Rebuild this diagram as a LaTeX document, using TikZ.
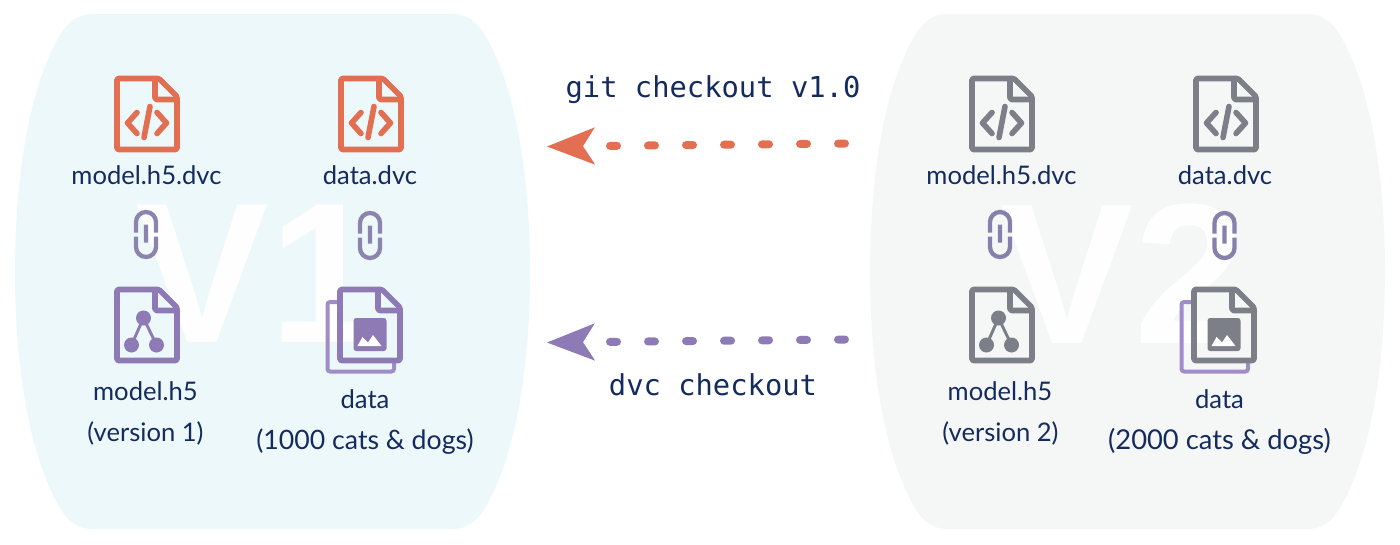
\documentclass[tikz,border=0pt]{standalone}
\usepackage{fontspec}
\setmainfont{Lato}
\setmonofont{DejaVu Sans Mono}
\newfontfamily\bigfont{Liberation Sans}
\usetikzlibrary{arrows.meta}
\definecolor{orangeC}{HTML}{E36F52}
\definecolor{purpleC}{HTML}{8E7BB5}
\definecolor{backC}{HTML}{A08DC8}
\definecolor{grayC}{HTML}{7C7F87}
\definecolor{navyC}{HTML}{142B5F}
\definecolor{blobL}{HTML}{EDF8FA}
\definecolor{blobR}{HTML}{F5F6F6}
\definecolor{linkL}{HTML}{8C84AE}
\definecolor{linkR}{HTML}{8880AC}
\tikzset{
  x=0.75pt,y=-0.75pt,
  lbl/.style={text=navyC,font=\fontsize{19.2pt}{20pt}\selectfont,inner sep=0pt,anchor=base},
  lblw/.style={text=navyC,font=\fontsize{#1}{22pt}\selectfont,inner sep=0pt,anchor=base},
  cmd/.style={text=navyC,font=\ttfamily\fontsize{21.6pt}{24pt}\selectfont,inner sep=0pt,anchor=base},
  bigv/.style={text=white,font=\bigfont\bfseries\fontsize{150pt}{150pt}\selectfont,inner sep=0pt,anchor=center,opacity=.95},
  flow/.style={line width=6pt,line cap=round,dash pattern=on 5.25pt off 23.25pt,
    -{Stealth[length=36pt,width=28pt,inset=9pt,line width=0pt,sep=0pt]}},
  pics/container/.style={code={
    \fill[#1] (15,272) .. controls (15,180) and (28,90) .. (60,35)
      .. controls (68,22) and (78,14) .. (92,14) -- (453,14)
      .. controls (467,14) and (477,22) .. (485,35)
      .. controls (517,90) and (530,180) .. (530,272)
      .. controls (530,363) and (517,453) .. (485,508)
      .. controls (477,521) and (467,529) .. (453,529) -- (92,529)
      .. controls (78,529) and (68,521) .. (60,508)
      .. controls (28,453) and (15,363) .. (15,272) -- cycle;
  }},
  pics/sheet/.style={code={
    \draw[#1,line width=4.2pt,line join=round,rounded corners=1pt]
      (0,0) -- (42,0) -- (60,18) -- (60,71) -- (0,71) -- cycle;
    \draw[#1,line width=4.2pt,line join=round,rounded corners=1.5pt] (38,0) -- (38,21) -- (60,21);
  }},
  pics/codeglyph/.style={code={
    \draw[#1,line width=4.2pt,line cap=round,line join=round]
      (20,34) -- (10.5,44.5) -- (20,55) (40,34) -- (49.5,44.5) -- (40,55) (33,28) -- (27,59);
  }},
  pics/treeglyph/.style={code={
    \draw[#1,line width=2.2pt] (14.5,55.5) -- (26.5,28.5) -- (39.5,55.5);
    \fill[#1] (26.5,28.5) circle (7.5) (14.5,55.5) circle (7.5) (39.5,55.5) circle (7.5);
  }},
  pics/imageglyph/.style={code={
    \fill[#1,rounded corners=2pt] (13.5,28.5) rectangle (46.5,61.5);
    \fill[white] (17.5,56.5) -- (22.5,47.5) -- (28,53) -- (33,45.5) -- (41.5,56.5) -- cycle;
  }},
  pics/backsheet/.style={code={
    \draw[backC,line width=3pt,rounded corners=2pt] (-1,12.5) -- (-12.5,12.5) -- (-12.5,82) -- (54,82) -- (54,72.5);
  }},
  pics/linkglyph/.style={code={
    \draw[#1,line width=3.2pt]
      (-10,-2) -- (-10,-12.5) arc (180:360:10) -- (10,-2)
      (-10,2) -- (-10,12.5) arc (180:0:10) -- (10,2)
      (0,-10) -- (0,8);
  }},
}
\begin{document}
\begin{tikzpicture}
\useasboundingbox (0,0) rectangle (1400,544);
\fill[white] (0,0) rectangle (1400,544);
% containers
\pic at (0,0) {container=blobL};
\pic at (855,0) {container=blobR};
\node[bigv] (vone) at (258,274) {V1};
\node[bigv] (vtwo) at (1123,274) {V2};
% left icons
\pic at (117,78.5) {sheet=orangeC};
\pic at (117,78.5) {codeglyph=orangeC};
\pic at (341,78.5) {sheet=orangeC};
\pic at (341,78.5) {codeglyph=orangeC};
\pic at (146,234.5) {linkglyph=linkL};
\pic at (370,235.5) {linkglyph=linkL};
\pic at (117,289.5) {sheet=purpleC};
\pic at (117,289.5) {treeglyph=purpleC};
\pic at (340,289.5) {backsheet};
\pic at (340,289.5) {sheet=purpleC};
\pic at (340,289.5) {imageglyph=purpleC};
% right icons
\pic at (972,78.5) {sheet=grayC};
\pic at (972,78.5) {codeglyph=grayC};
\pic at (1196,78.5) {sheet=grayC};
\pic at (1196,78.5) {codeglyph=grayC};
\pic at (1000,234.5) {linkglyph=linkR};
\pic at (1224.5,235.5) {linkglyph=linkR};
\pic at (972,289.5) {sheet=grayC};
\pic at (972,289.5) {treeglyph=grayC};
\pic at (1194,289.5) {backsheet};
\pic at (1194,289.5) {sheet=grayC};
\pic at (1194,289.5) {imageglyph=grayC};
% labels
\node[lbl] (a) at (146.5,184) {model.h5.dvc};
\node[lbl] (b) at (370,184) {data.dvc};
\node[lbl] (c) at (145.5,400) {model.h5};
\node[lbl] (d) at (145.5,441) {(version 1)};
\node[lbl] (e) at (365,408.5) {data};
\node[lblw=20pt] (f) at (365,449) {(1000 cats \& dogs)};
\node[lbl] (g) at (1001.5,184) {model.h5.dvc};
\node[lbl] (h) at (1225,184) {data.dvc};
\node[lbl] (i) at (1000,400) {model.h5};
\node[lbl] (j) at (1000.5,441) {(version 2)};
\node[lbl] (k) at (1219.5,408.5) {data};
\node[lblw=20.5pt] (l) at (1219.5,449) {(2000 cats \& dogs)};
\node[cmd] (git) at (713,97) {git checkout v1.0};
\node[cmd] (dvc) at (713,395) {dvc checkout};
% connectors
\coordinate (o1) at (845,143.5);
\coordinate (o2) at (547,146.5);
\coordinate (p1) at (845,339.5);
\coordinate (p2) at (547,342.5);
\draw[flow,draw=orangeC] (o1) -- (o2);
\draw[flow,draw=purpleC] (p1) -- (p2);
\end{tikzpicture}
\end{document}
